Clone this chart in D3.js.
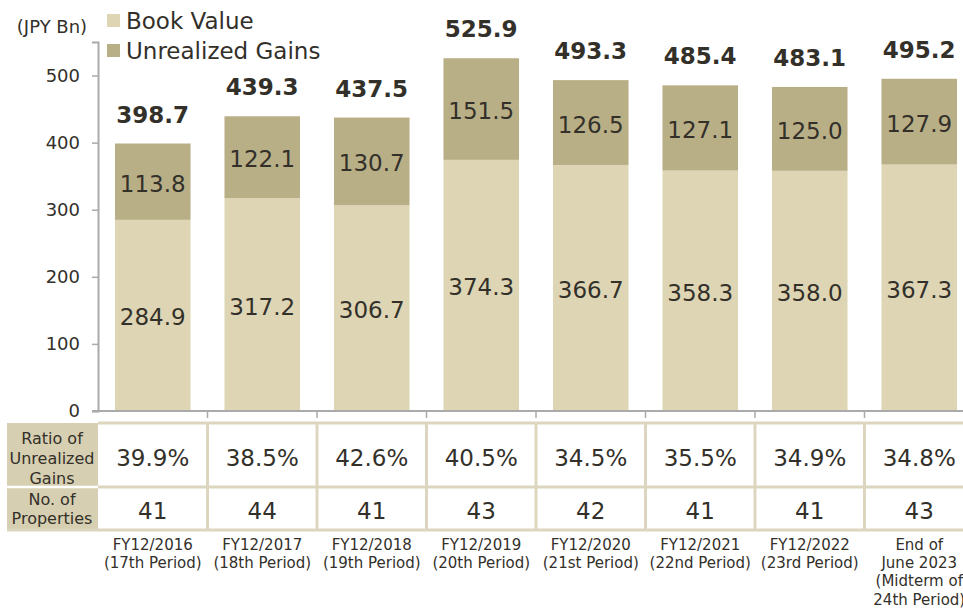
<!DOCTYPE html>
<html lang="en">
<head>
<meta charset="utf-8">
<title>Book Value and Unrealized Gains</title>
<script src="https://d3js.org/d3.v7.min.js"></script>
<style>
	body { margin: 0; background: #fff; }
	svg { display: block; font-family: "DejaVu Sans", Verdana, sans-serif; }
</style>
</head>
<body>
<div id="chart"></div>
<script>
	// chart data
	const categories = ["FY12/2016", "FY12/2017", "FY12/2018", "FY12/2019", "FY12/2020", "FY12/2021", "FY12/2022", "June 2023"];
	const categoryLabels = [
		["FY12/2016", "(17th Period)"],
		["FY12/2017", "(18th Period)"],
		["FY12/2018", "(19th Period)"],
		["FY12/2019", "(20th Period)"],
		["FY12/2020", "(21st Period)"],
		["FY12/2021", "(22nd Period)"],
		["FY12/2022", "(23rd Period)"],
		["End of", "June 2023", "(Midterm of", "24th Period)"]
	];
	const bookValue = [284.9, 317.2, 306.7, 374.3, 366.7, 358.3, 358.0, 367.3];
	const unrealizedGains = [113.8, 122.1, 130.7, 151.5, 126.5, 127.1, 125.0, 127.9];
	const totals = [398.7, 439.3, 437.5, 525.9, 493.3, 485.4, 483.1, 495.2];
	const ratioLabels = ["39.9%", "38.5%", "42.6%", "40.5%", "34.5%", "35.5%", "34.9%", "34.8%"];
	const propertyCounts = [41, 44, 41, 43, 42, 41, 41, 43];
	const yTicks = [0, 100, 200, 300, 400, 500];
	const seriesNames = ["Book Value", "Unrealized Gains"];

	const colors = { book: "#ddd5b4", gains: "#b9af87", head: "#d7cfb1", grid: "#ddd6bf", text: "#33302a", axis: "#aaaaaa" };

	const W = 963, H = 610;
	const svg = d3.select("#chart").append("svg")
		.attr("width", W)
		.attr("height", H);

	// scales
	const x = d3.scaleBand()
		.domain(categories)
		.range([98, 974])
		.paddingInner(0.31)
		.paddingOuter(0.155);
	const step = x.step();
	const cellLeft = d => x(d) - step * 0.31 / 2;

	const y = d3.scaleLinear()
		.domain([0, 550])
		.range([411, 42]);

	// stacked data
	const rows = categories.map((c, i) => ({ cat: c, book: bookValue[i], gains: unrealizedGains[i], total: totals[i] }));

	// book value bars
	svg.append("g")
		.selectAll("rect")
		.data(rows).enter()
		.append("rect")
		.attr("x", d => x(d.cat))
		.attr("width", x.bandwidth())
		.attr("y", d => y(d.book))
		.attr("height", d => y(0) - y(d.book))
		.attr("fill", colors.book);

	// unrealized gains bars
	svg.append("g")
		.selectAll("rect")
		.data(rows).enter()
		.append("rect")
		.attr("x", d => x(d.cat))
		.attr("width", x.bandwidth())
		.attr("y", d => y(d.book + d.gains))
		.attr("height", d => y(d.book) - y(d.book + d.gains))
		.attr("fill", colors.gains);

	// segment labels
	svg.append("g")
		.selectAll("text")
		.data(rows).enter()
		.append("text")
		.attr("x", d => x(d.cat) + x.bandwidth() / 2)
		.attr("y", d => (y(0) + y(d.book)) / 2 + 10)
		.attr("text-anchor", "middle")
		.attr("font-size", 23)
		.attr("fill", colors.text)
		.text(d => d.book.toFixed(1));

	svg.append("g")
		.selectAll("text")
		.data(rows).enter()
		.append("text")
		.attr("x", d => x(d.cat) + x.bandwidth() / 2)
		.attr("y", d => (y(d.book) + y(d.book + d.gains)) / 2 + 10)
		.attr("text-anchor", "middle")
		.attr("font-size", 23)
		.attr("fill", colors.text)
		.text(d => d.gains.toFixed(1));

	// totals
	svg.append("g")
		.selectAll("text")
		.data(rows).enter()
		.append("text")
		.attr("x", d => x(d.cat) + x.bandwidth() / 2)
		.attr("y", d => y(d.book + d.gains) - 21)
		.attr("text-anchor", "middle")
		.attr("font-size", 23)
		.attr("font-weight", "bold")
		.attr("fill", colors.text)
		.text(d => d.total.toFixed(1));

	// y axis
	const yAxis = svg.append("g")
		.attr("transform", "translate(98,0)")
		.call(d3.axisLeft(y).tickValues(yTicks).tickSize(6).tickPadding(12));
	yAxis.select(".domain").attr("stroke", colors.axis).attr("stroke-width", 2);
	yAxis.selectAll(".tick line").attr("stroke", colors.axis).attr("stroke-width", 1.5);
	yAxis.selectAll(".tick text")
		.attr("font-size", 18)
		.attr("font-family", "DejaVu Sans, sans-serif")
		.attr("fill", colors.text);

	// x axis baseline with category boundary ticks
	svg.append("line")
		.attr("x1", 92).attr("x2", W)
		.attr("y1", y(0)).attr("y2", y(0))
		.attr("stroke", colors.axis).attr("stroke-width", 2);
	svg.append("g")
		.selectAll("line")
		.data(categories.slice(1)).enter()
		.append("line")
		.attr("x1", d => cellLeft(d)).attr("x2", d => cellLeft(d))
		.attr("y1", y(0)).attr("y2", y(0) + 7)
		.attr("stroke", colors.axis).attr("stroke-width", 1.5);

	svg.append("text")
		.attr("x", 52).attr("y", 33)
		.attr("text-anchor", "middle")
		.attr("font-size", 18)
		.attr("fill", colors.text)
		.text("(JPY Bn)");

	// legend
	const legend = svg.append("g");
	[colors.book, colors.gains].forEach((c, i) => {
		legend.append("rect")
			.attr("x", 107).attr("y", 14 + i * 30)
			.attr("width", 13).attr("height", 13)
			.attr("fill", c);
		legend.append("text")
			.attr("x", 126).attr("y", 29 + i * 30)
			.attr("font-size", 23)
			.attr("fill", colors.text)
			.text(seriesNames[i]);
	});

	// table below the chart
	const r1 = [423, 486], r2 = [488, 530];
	const table = svg.append("g");

	table.append("rect")
		.attr("x", 7).attr("y", r1[0])
		.attr("width", 91).attr("height", r2[1] - r1[0])
		.attr("fill", colors.head);
	table.append("line")
		.attr("x1", 7).attr("x2", 98)
		.attr("y1", 487).attr("y2", 487)
		.attr("stroke", "#fff").attr("stroke-width", 2.5);

	// table grid
	table.append("line")
		.attr("x1", 98).attr("x2", W)
		.attr("y1", r1[0]).attr("y2", r1[0])
		.attr("stroke", colors.grid).attr("stroke-width", 3);
	table.append("line")
		.attr("x1", 98).attr("x2", W)
		.attr("y1", 487).attr("y2", 487)
		.attr("stroke", colors.grid).attr("stroke-width", 3);
	table.append("line")
		.attr("x1", 7).attr("x2", W)
		.attr("y1", r2[1]).attr("y2", r2[1])
		.attr("stroke", colors.grid).attr("stroke-width", 3);
	table.append("g")
		.selectAll("line")
		.data(categories.slice(1)).enter()
		.append("line")
		.attr("x1", d => cellLeft(d)).attr("x2", d => cellLeft(d))
		.attr("y1", r1[0]).attr("y2", r2[1])
		.attr("stroke", colors.grid).attr("stroke-width", 3);

	// header text
	const head1 = table.append("text")
		.attr("text-anchor", "middle")
		.attr("font-size", 16)
		.attr("fill", colors.text);
	["Ratio of", "Unrealized", "Gains"].forEach((t, i) => {
		head1.append("tspan").attr("x", 52).attr("y", 444 + i * 20).text(t);
	});
	const head2 = table.append("text")
		.attr("text-anchor", "middle")
		.attr("font-size", 16)
		.attr("fill", colors.text);
	["No. of", "Properties"].forEach((t, i) => {
		head2.append("tspan").attr("x", 52).attr("y", 505 + i * 19).text(t);
	});

	// table values
	table.append("g")
		.selectAll("text")
		.data(ratioLabels).enter()
		.append("text")
		.attr("x", (d, i) => x(categories[i]) + x.bandwidth() / 2)
		.attr("y", 466)
		.attr("text-anchor", "middle")
		.attr("font-size", 23)
		.attr("fill", colors.text)
		.text(d => d);
	table.append("g")
		.selectAll("text")
		.data(propertyCounts).enter()
		.append("text")
		.attr("x", (d, i) => x(categories[i]) + x.bandwidth() / 2)
		.attr("y", 519)
		.attr("text-anchor", "middle")
		.attr("font-size", 23)
		.attr("fill", colors.text)
		.text(d => d);

	// category labels
	const catG = svg.append("g");
	categoryLabels.forEach((lines, i) => {
		const t = catG.append("text")
			.attr("text-anchor", "middle")
			.attr("font-size", 15)
			.attr("fill", colors.text);
		lines.forEach((s, j) => {
			t.append("tspan")
				.attr("x", x(categories[i]) + x.bandwidth() / 2)
				.attr("y", 550 + j * 18.2)
				.text(s);
		});
	});
</script>
</body>
</html>
